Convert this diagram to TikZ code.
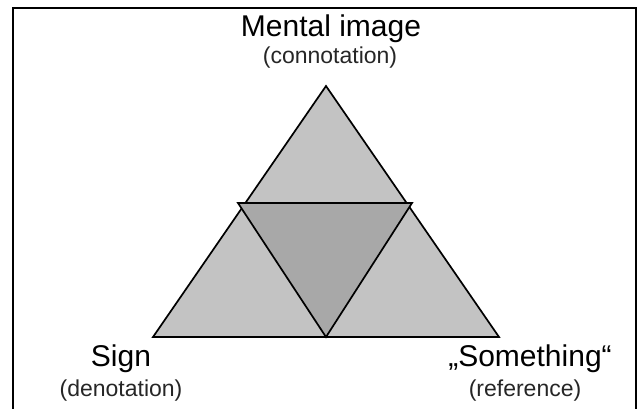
\documentclass[tikz,border=0pt]{standalone}
\usepackage{fontspec}
\setmainfont{Liberation Sans}
\definecolor{lightfill}{HTML}{C3C3C3}
\definecolor{darkfill}{HTML}{A8A8A8}
\tikzset{
  tri/.style={draw=black, line width=1.7pt, line join=miter, fill=lightfill},
  inner/.style={draw=black, line width=1.7pt, line join=miter, fill=darkfill},
  bigtext/.style={inner sep=0pt, anchor=base, font=\fontsize{30}{35}\selectfont},
  smalltext/.style={inner sep=0pt, anchor=base, text=black!85, font=\fontsize{23}{27}\selectfont},
  frame/.style={draw=black, line width=2pt}
}
\begin{document}
\begin{tikzpicture}[x=1pt,y=-1pt]
\useasboundingbox (0,0) rectangle (639,408);
\clip (0,0) rectangle (639,408);
\draw[frame] (13,8) rectangle (636,430);
% vertices
\coordinate (top) at (326,86);
\coordinate (bl) at (153,337);
\coordinate (br) at (499,337);
\coordinate (ml) at (238,203);
\coordinate (mr) at (412,203);
\coordinate (mb) at (326,337);
\filldraw[tri] (top) -- (bl) -- (br) -- cycle;
\filldraw[inner] (ml) -- (mr) -- (mb) -- cycle;
% labels
\node[bigtext] (mental) at (331,36.5) {Mental image};
\node[smalltext] (conn) at (330,63) {(connotation)};
\node[bigtext] (sign) at (121,366.5) {Sign};
\node[smalltext] (deno) at (121,396) {(denotation)};
\node[bigtext] (some) at (530,366.5) {„Something“};
\node[smalltext] (refe) at (525,396) {(reference)};
\end{tikzpicture}
\end{document}
